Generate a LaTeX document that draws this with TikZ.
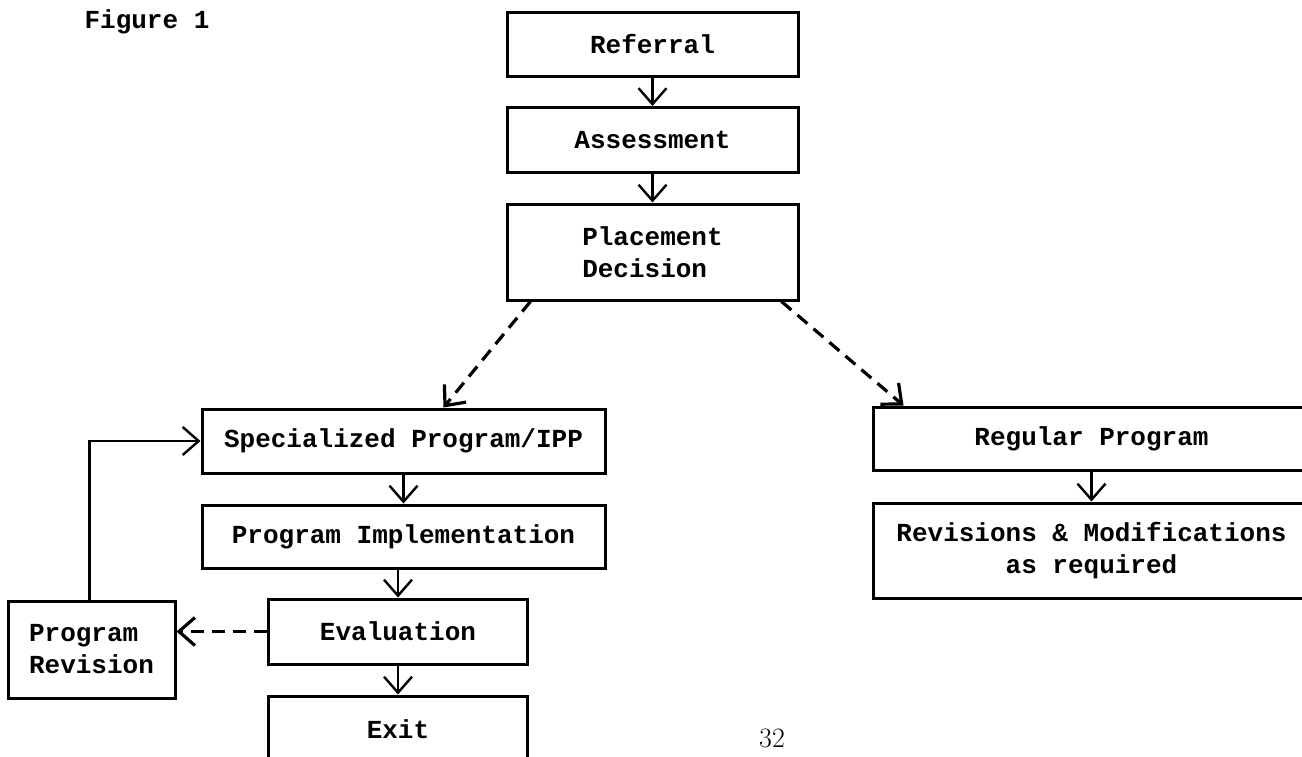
\documentclass[tikz,border=0pt]{standalone}
\usepackage{fontspec}
\setmonofont{Liberation Mono}
\usetikzlibrary{arrows.meta}

\tikzset{
  stage/.style={draw, line width=3pt, inner sep=0pt, align=center,
    font=\ttfamily\bfseries\fontsize{26}{32}\selectfont},
  flow/.style={line width=2.4pt, -{Straight Barb[length=16pt,width=28pt]}},
  maybe/.style={flow, line width=3.2pt, dash pattern=on 13pt off 8pt}
}

\begin{document}
\begin{tikzpicture}[x=1pt, y=-1pt]
  \useasboundingbox (0,0) rectangle (1302,756);
  \node[font=\ttfamily\bfseries\fontsize{26}{32}\selectfont] (fig) at (147,22) {Figure 1};
  % main line
  \node[stage, minimum width=291pt, minimum height=64pt] (referral) at (652.5,44) {Referral};
  \node[stage, minimum width=291pt, minimum height=65pt] (assess) at (652.5,140) {Assessment};
  \node[stage, align=left, minimum width=291pt, minimum height=96pt] (place) at (652.5,252) {Placement\\Decision};
  % specialized branch
  \node[stage, minimum width=403pt, minimum height=64pt] (special) at (403.5,441) {Specialized Program/IPP};
  \node[stage, minimum width=403pt, minimum height=63pt] (implement) at (403.5,536.5) {Program Implementation};
  \node[stage, minimum width=259pt, minimum height=65pt] (evaluate) at (398,631.5) {Evaluation};
  \node[stage, minimum width=259pt, minimum height=66pt] (exitbox) at (398,729) {Exit};
  \node[stage, align=left, minimum width=167pt, minimum height=97pt] (revise) at (91.5,649.5) {Program\\Revision};
  % regular branch
  \node[stage, minimum width=437pt, minimum height=63pt] (regular) at (1091.5,438.5) {Regular Program};
  \node[stage, minimum width=437pt, minimum height=95pt] (modify) at (1091.5,550.5) {Revisions \& Modifications\\as required};
  \path[flow]
  (referral) edge (assess)
  (assess) edge (place)
  (special) edge (implement)
  (implement.south -| evaluate.north) edge (evaluate)
  (evaluate) edge (exitbox)
  (regular) edge (modify)
;
  \path[maybe]
  ([xshift=25pt]place.south west) edge ([xshift=243pt]special.north west)
  ([xshift=-18pt]place.south east) edge ([xshift=32pt]regular.north west)
  (evaluate.west) edge (evaluate.west -| revise.east)
;
  \draw[flow] ([xshift=-2pt]revise.north) |- (special.west);
  \node[font=\fontsize{28}{28}\selectfont] (page) at (772,738) {32};
\end{tikzpicture}
\end{document}
